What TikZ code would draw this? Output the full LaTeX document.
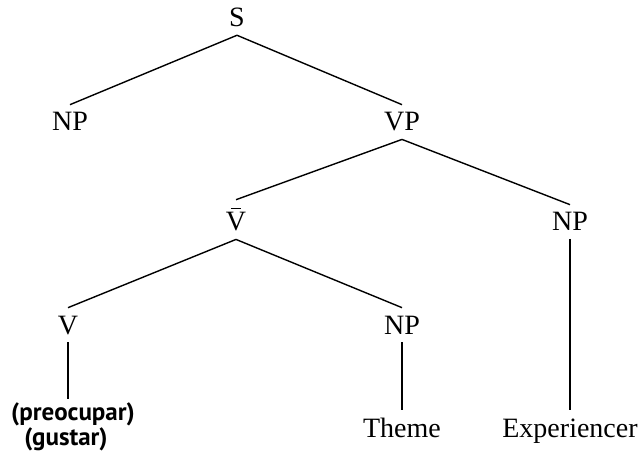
\documentclass[tikz,border=0pt]{standalone}
\usepackage{fontspec}
\setmainfont{Liberation Serif}
\newfontfamily\lblsans{PT Sans}
\newcommand{\vbarcat}{\makebox[0pt][l]{\hspace{5pt}\rule[22pt]{10pt}{1.3pt}}V}
\begin{document}
\begin{tikzpicture}[x=1pt,y=-1pt,
  cat/.style={font=\fontsize{28}{30}\selectfont, inner sep=0pt, outer sep=8pt, anchor=base},
  leaf/.style={font=\fontsize{28}{30}\selectfont, inner sep=0pt, outer sep=8pt, anchor=base},
  sans/.style={font=\lblsans\bfseries\fontsize{25}{26}\selectfont, inner sep=0pt, outer sep=3pt, anchor=base},
  edge/.style={line width=1.4pt}]
\useasboundingbox (0,0) rectangle (642,454);
\node[cat] (S) at (237,27) {S};
\node[cat] (NP1) at (70,131) {NP};
\node[cat] (VP) at (402,131) {VP};
\node[cat] (Vb) at (236,231) {\vbarcat};
\node[cat] (NP2) at (570,231) {NP};
\node[cat] (V) at (68,334) {V};
\node[cat] (NP3) at (402,334) {NP};
\node[sans] (pre) at (73,420) {(preocupar)};
\node[sans] (gus) at (66,445) {(gustar)};
\node[leaf] (th) at (402,437) {Theme};
\node[leaf] (ex) at (570,437) {Experiencer};
\draw[edge] (S.south) -- (NP1.north);
\draw[edge] (S.south) -- (VP.north);
\draw[edge] (VP.south) -- (Vb.north);
\draw[edge] (VP.south) -- (NP2.north);
\draw[edge] (Vb.south) -- (V.north);
\draw[edge] (Vb.south) -- (NP3.north);
\draw[edge] (V.south) -- (V.south |- pre.north);
\draw[edge] (NP3.south) -- (th.north);
\draw[edge] (NP2.south) -- (ex.north);
\end{tikzpicture}
\end{document}
